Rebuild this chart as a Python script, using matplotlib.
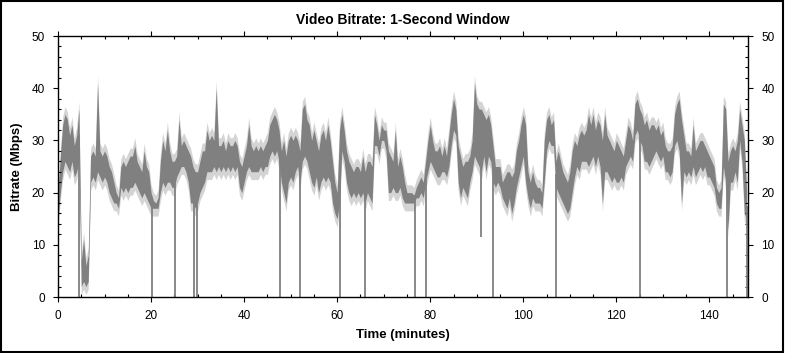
import matplotlib.pyplot as plt
import numpy as np
from matplotlib.patches import Rectangle
from matplotlib.ticker import MultipleLocator

plt.rcParams['font.family'] = ['Liberation Sans', 'DejaVu Sans']

# Bitrate, one sample every 0.5 minute (low / high of the trace)
step = 0.5
low = [
    15, 20, 24, 26, 25, 24, 26, 23, 24, 26,
    2, 3, 2, 3, 22, 23, 22, 24, 23, 22,
    23, 22, 20, 19, 18, 18, 17, 21, 20, 21,
    20, 21, 21, 22, 21, 20, 19, 20, 19, 18,
    17, 17, 17, 17, 20, 22, 21, 22, 22, 21,
    21, 23, 24, 25, 25, 24, 22, 18, 18, 17,
    18, 20, 21, 22, 24, 24, 24, 25, 24, 25,
    24, 25, 24, 25, 24, 25, 24, 25, 21, 20,
    22, 24, 25, 24, 24, 24, 24, 25, 24, 25,
    25, 27, 28, 27, 28, 26, 22, 20, 18, 22,
    23, 22, 24, 25, 22, 26, 27, 26, 24, 22,
    21, 23, 20, 22, 23, 22, 23, 22, 18, 16,
    15, 18, 28, 26, 22, 20, 19, 20, 19, 20,
    19, 20, 18, 20, 19, 18, 29, 29, 27, 30,
    30, 28, 20, 20, 21, 20, 20, 21, 19, 18,
    18, 18, 18, 18, 19, 19, 20, 19, 22, 24,
    26, 25, 24, 23, 23, 24, 24, 23, 25, 29,
    32, 31, 22, 19, 21, 20, 19, 22, 24, 27,
    26, 25, 24, 27, 24, 27, 26, 22, 21, 22,
    21, 19, 18, 17, 19, 16, 18, 21, 23, 25,
    27, 22, 19, 17, 19, 18, 18, 18, 17, 22,
    28, 30, 29, 29, 21, 20, 19, 18, 17, 16,
    17, 20, 23, 25, 24, 26, 26, 26, 25, 26,
    27, 25, 27, 25, 18, 24, 24, 23, 22, 23,
    22, 22, 23, 22, 25, 26, 27, 26, 31, 32,
    30, 29, 26, 26, 25, 26, 27, 28, 27, 26,
    27, 24, 24, 23, 24, 29, 30, 28, 18, 24,
    23, 24, 23, 25, 23, 24, 25, 24, 25, 23,
    23, 22, 21, 18, 17, 17, 25, 22, 13, 22,
    22, 24, 22, 30, 26, 16, 15,
]
high = [
    20, 27, 33, 35, 34, 31, 33, 29, 31, 36,
    7, 11, 6, 8, 27, 28, 27, 41, 28, 27,
    28, 27, 25, 24, 22, 20, 19, 25, 26, 25,
    26, 27, 27, 29, 26, 25, 24, 28, 25, 24,
    20, 18.5, 18, 19, 26, 30, 28, 32, 28, 26,
    26, 27, 34, 29, 30, 29, 28, 27, 25, 24,
    24, 26, 28, 28, 32, 30, 31, 30, 40, 29,
    29, 30, 28, 30, 29, 29, 30, 29, 26, 25,
    27, 29, 33, 29, 28, 29, 28, 29, 28, 29,
    30, 33, 34, 35, 34, 32, 28, 30, 27, 30,
    31, 30, 31, 30, 28, 36, 37, 34, 33, 30,
    32, 30, 28, 31, 32, 30, 33, 30, 26, 22,
    20, 32, 35, 32, 28, 26, 25, 24, 25, 25,
    24, 27, 24, 26, 26, 25, 35, 33, 30, 33,
    32, 32, 28, 27, 26, 32, 25, 27, 25, 22,
    20, 20, 20, 19.5, 21, 22, 23, 22, 26, 30,
    33, 30, 28, 28, 29, 27, 29, 27, 31, 35,
    38, 36, 29, 27, 25, 26, 26, 27, 30, 41,
    37, 36, 36, 35, 34, 35, 33, 29, 25, 25,
    25, 22, 23, 24, 24, 23, 24, 28, 30, 33,
    35, 33, 24, 22, 24, 22, 21, 21, 20, 30,
    34, 35, 33, 34, 26, 28, 26, 24, 23, 22,
    24, 28, 30, 29, 31, 32, 31, 32, 35, 33,
    35, 32, 34, 33, 30, 35, 31, 30, 29, 28,
    30, 29, 28, 27, 30, 33, 32, 30, 37, 38,
    36, 35, 33, 34, 32, 33, 33, 32, 33, 31,
    32, 29, 28, 28, 29, 35, 37, 38, 34, 31,
    28, 28, 27, 33, 28, 29, 30, 30, 29, 28,
    27, 26, 25, 21, 20, 21, 37, 36, 26, 28,
    29, 28, 30, 36, 33, 30, 20,
]
# short drops of the trace (minutes, lowest value in Mbps)
drop_times = [0, 4.5, 20.2, 25.1, 29.3, 29.8, 47.8, 52.0, 60.6, 66.0,
              76.8, 79.1, 90.9, 93.4, 107.0, 125.1, 143.7, 148.0]
drop_mins = [0, 0, 0, 0, 0, 0, 0, 0, 0, 0,
             0, 0, 11.5, 0, 0, 0, 0, 0]

low = np.array(low, dtype=float)
high = np.array(high, dtype=float)
t = np.arange(len(low)) * step

fig = plt.figure(figsize=(7.85, 3.53), dpi=100)
ax = fig.add_axes([0.0739, 0.1586, 0.879, 0.7394])

dark = '#808080'
light = '#d4d4d4'
ax.fill_between(t, np.clip(low - 1.5, 0, None), high + 1.5, color=light, lw=0)
ax.fill_between(t, low, high, color=dark, lw=0)
ax.vlines(drop_times, drop_mins, np.interp(drop_times, t, (low + high) / 2),
          color=dark, lw=1.3)

ax.set_xlim(0, 148.3)
ax.set_ylim(0, 50)
ax.xaxis.set_major_locator(MultipleLocator(20))
ax.xaxis.set_minor_locator(MultipleLocator(5))
ax.yaxis.set_major_locator(MultipleLocator(10))
ax.yaxis.set_minor_locator(MultipleLocator(2))
ax.tick_params(which='both', top=True, right=True, labelright=True,
               labelsize=8.5, colors='black')
ax.tick_params(which='major', direction='out', length=3.5, width=0.8, pad=6)
ax.tick_params(which='minor', direction='in', length=2.5, width=0.8)
for s in ax.spines.values():
    s.set_linewidth(1.0)

ax.set_title('Video Bitrate: 1-Second Window', fontsize=10, fontweight='bold', pad=9)
ax.set_xlabel('Time (minutes)', fontsize=9.5, fontweight='bold', labelpad=5)
ax.set_ylabel('Bitrate (Mbps)', fontsize=9.5, fontweight='bold', labelpad=6)

fig.add_artist(Rectangle((0.001, 0.002), 0.997, 0.996, transform=fig.transFigure,
                         fill=False, edgecolor='black', lw=1.5))

fig.savefig('out.png', dpi=100)
